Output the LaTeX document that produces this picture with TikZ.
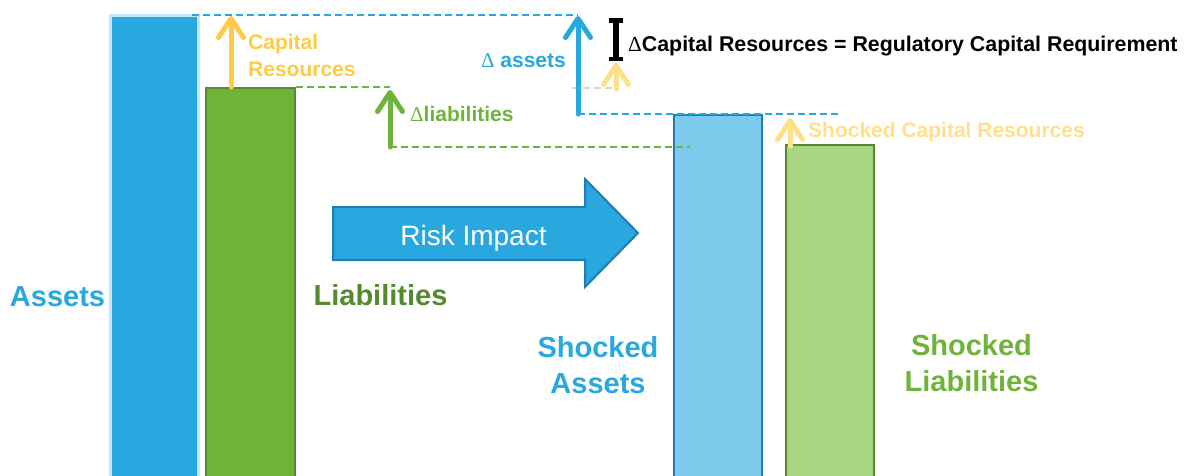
\documentclass[tikz,border=0pt]{standalone}
\usepackage{fontspec}
\setmainfont{Liberation Sans}
\newfontfamily\serifD{Liberation Serif}
\usetikzlibrary{arrows.meta}
\definecolor{cblue}{HTML}{29A8E0}
\definecolor{cblueD}{HTML}{1F7DAF}
\definecolor{cblueL}{HTML}{7DCBEC}
\definecolor{cblueO}{HTML}{C4E6F6}
\definecolor{cgreen}{HTML}{70B33B}
\definecolor{cgreenD}{HTML}{548A2E}
\definecolor{cgreenL}{HTML}{A9D580}
\definecolor{cgreenF}{HTML}{C9E3AE}
\definecolor{cyel}{HTML}{FFCB45}
\definecolor{cyelL}{HTML}{FFE08A}
\begin{document}
\begin{tikzpicture}[x=1pt,y=-1pt,
  upar/.style={line width=5pt, line cap=round, -{Straight Barb[length=19pt,width=25pt,round]}},
  guide/.style={line width=1.1pt, dash pattern=on 7pt off 4pt},
  big/.style={font=\fontsize{29}{36}\selectfont\bfseries, inner sep=0pt},
  mid/.style={font=\fontsize{21}{27}\selectfont\bfseries, inner sep=0pt},
  bar/.style={line width=2.5pt},
]
\useasboundingbox (0,0) rectangle (1187,475);
% bars
\filldraw[bar, fill=cblue, draw=cblueO, line width=3pt] (110.5,15.5) rectangle (198.5,485);
\filldraw[bar, fill=cgreen, draw=cgreenD] (206,88) rectangle (295,485);
\filldraw[bar, fill=cblueL, draw=cblueD] (674,115) rectangle (762,485);
\filldraw[bar, fill=cgreenL, draw=cgreenD] (786,145) rectangle (874,485);
% risk impact arrow
\filldraw[fill=cblue, draw=cblueD, line width=2pt, line join=miter]
  (333,207) -- (585,207) -- (585,179) -- (638,233) -- (585,287) -- (585,260) -- (333,260) -- cycle;
\node[font=\fontsize{28}{34}\selectfont, text=white, inner sep=0pt, anchor=base] (risk) at (473.5,245) {Risk Impact};
% guide coordinates
\coordinate (aTop) at (192,15);
\coordinate (daTop) at (578,15);
\coordinate (daBot) at (578,114);
\coordinate (saEnd) at (840,114);
\coordinate (lTop) at (296,87);
\coordinate (dlTop) at (390,87);
\coordinate (dlBot) at (390,147);
\coordinate (dlEnd) at (690,147);
\coordinate (fgA) at (572,88);
\coordinate (fgB) at (612,88);
\coordinate (capBot) at (231,87);
\coordinate (capTop) at (231,16);
\coordinate (dlTip) at (390,90);
\coordinate (daTip) at (578,16);
\coordinate (yBot) at (616,89);
\coordinate (yTip) at (616,63);
\coordinate (scBot) at (790,146);
\coordinate (scTip) at (790,118);
\coordinate (ibTop) at (616,18);
\coordinate (ibBot) at (616,61);
% dashed guides
\draw[guide, cblue] (aTop) -- (daTop);
\draw[guide, cblue] (daBot) -- (saEnd);
\draw[guide, cgreen] (lTop) -- (dlTop);
\draw[guide, cgreen] (dlBot) -- (dlEnd);
\draw[guide, cgreenF] (fgA) -- (fgB);
% arrows
\draw[upar, cyel] (capBot) -- (capTop);
\draw[upar, cgreen] (dlBot) -- (dlTip);
\draw[upar, cblue] (daBot) -- (daTip);
\draw[upar, cyelL] (yBot) -- (yTip);
\draw[upar, cyelL] (scBot) -- (scTip);
\draw[line width=5.5pt, {Bar[width=14pt,line width=4.5pt]}-{Bar[width=14pt,line width=4.5pt]}] (ibTop) -- (ibBot);
% labels
\node[mid, text=cyel, anchor=base west] (cap1) at (248,49) {Capital};
\node[mid, text=cyel, anchor=base west] (cap2) at (248,76) {Resources};
\node[mid, text=cblue, anchor=base east] (dA) at (566,67) {{\serifD\mdseries Δ} assets};
\node[mid, text=cgreen, anchor=base west] (dL) at (410,121) {{\serifD\mdseries Δ}liabilities};
\node[mid, text=black, anchor=base west, font=\fontsize{21.35}{27}\selectfont\bfseries] (req) at (628,51) {{\serifD\mdseries Δ}Capital Resources = Regulatory Capital Requirement};
\node[mid, text=cyelL, anchor=base west] (scr) at (808,137) {Shocked Capital Resources};
\node[big, text=cblue, anchor=base] (assetsL) at (57.5,306) {Assets};
\node[big, text=cgreenD, anchor=base] (liabL) at (380.5,305) {Liabilities};
\node[big, text=cblue, anchor=base] (shA1) at (598,357) {Shocked};
\node[big, text=cblue, anchor=base] (shA2) at (598,393) {Assets};
\node[big, text=cgreen, anchor=base] (shL1) at (971.5,355) {Shocked};
\node[big, text=cgreen, anchor=base] (shL2) at (971.5,391) {Liabilities};
\end{tikzpicture}
\end{document}
